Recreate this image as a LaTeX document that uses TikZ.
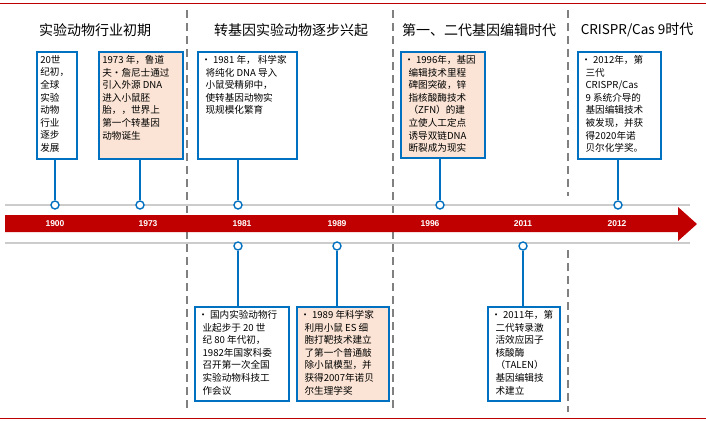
\documentclass[tikz,border=0pt]{standalone}
\usepackage{fontspec}
\setmainfont{Liberation Sans}
\newfontfamily\cjk{Noto Sans CJK SC}
\usetikzlibrary{arrows.meta}
\definecolor{bandred}{RGB}{192,0,0}
\definecolor{boxblue}{RGB}{0,112,192}
\definecolor{peach}{RGB}{251,228,213}
\newcommand\evtext[3]{\begin{minipage}[t][#2][t]{#1}\raggedright #3\end{minipage}}
\tikzset{
  evbox/.style = {draw=boxblue, line width=1.6pt, fill=white, anchor=north west,
    inner sep=3.5pt, font=\cjk\fontsize{9.6}{12.6}\selectfont},
  hot/.style = {fill=peach},
  stem/.style = {draw=boxblue, line width=1.4pt},
  dot/.style = {circle, draw=boxblue, line width=1.4pt, fill=white, inner sep=0pt, minimum size=8pt},
  year/.style = {text=white, font=\bfseries\fontsize{8.5}{9}\selectfont},
  era/.style = {font=\cjk\fontsize{14}{16}\selectfont},
  sep/.style = {draw=gray, line width=2pt, dash pattern=on 8pt off 5pt}
}
\begin{document}
\begin{tikzpicture}[x=1pt, y=-1pt]
    \useasboundingbox (0,0) rectangle (706,421);
    \draw[bandred, line width=1pt] (0,3) -- (706,3);
    \draw[bandred, line width=1pt] (0,418) -- (706,418);

    \draw[sep] (187,10) -- (187,412);
    \draw[sep] (393,10) -- (393,412);
    \draw[sep] (568,10) -- (568,196);
    \draw[sep] (568,250) -- (568,412);

    \node[era] (e1) at (95,30) {实验动物行业初期};
    \node[era] (e2) at (291,30) {转基因实验动物逐步兴起};
    \node[era] (e3) at (479,30) {第一、二代基因编辑时代};
    \node[era] (e4) at (637,30) {{\fontsize{13.5}{16}\selectfont CRISPR/Cas 9}时代};

    \draw[gray!40, line width=1.2pt] (5,205) -- (690,205);
    \draw[gray!40, line width=1.2pt] (5,243) -- (690,243);
    \fill[bandred] (5,215) -- (678,215) -- (678,207) -- (697,224) -- (678,241) -- (678,232) -- (5,232) -- cycle;

    \node[year] (y1) at (55,224) {1900};
    \node[year] (y2) at (148,224) {1973};
    \node[year] (y3) at (242,224) {1981};
    \node[year] (y4) at (337,224) {1989};
    \node[year] (y5) at (430,224) {1996};
    \node[year] (y6) at (523,224) {2011};
    \node[year] (y7) at (617,224) {2012};

    % upper events
    \node[evbox] (t1) at (36,51) {\evtext{33pt}{100pt}
      {20世\\纪初，\\全球\\实验\\动物\\行业\\逐步\\发展}};
    \node[evbox, hot] (t2) at (98,51) {\evtext{77pt}{100pt}
      {1973 年，鲁道\\夫·詹尼士通过\\引入外源 DNA\\进入小鼠胚\\胎，，世界上\\第一个转基因\\动物诞生}};
    \node[evbox] (t3) at (197,51) {\evtext{92pt}{100pt}
      {• 1981 年， 科学家\\\ \ 将纯化 DNA 导入\\\ \ 小鼠受精卵中，\\\ \ 使转基因动物实\\\ \ 现规模化繁育}};
    \node[evbox, hot] (t4) at (400,51) {\evtext{77pt}{99pt}
      {• 1996年，基因\\\ \ 编辑技术里程\\\ \ 碑图突破，锌\\\ \ 指核酸酶技术\\\ \ （ZFN）的建\\\ \ 立使人工定点\\\ \ 诱导双链DNA\\\ \ 断裂成为现实}};
    \node[evbox] (t5) at (577,51) {\evtext{76pt}{100pt}
      {• 2012年，第\\\ \ 三代\\\ \ CRISPR/Cas\\\ \ 9 系统介导的\\\ \ 基因编辑技术\\\ \ 被发现，并获\\\ \ 得2020年诺\\\ \ 贝尔化学奖。}};

    \node[dot] (d1) at (55,205) {};
    \node[dot] (d2) at (140,205) {};
    \node[dot] (d3) at (238,205) {};
    \node[dot] (d4) at (440,205) {};
    \node[dot] (d5) at (618,205) {};
    \draw[stem] (t1.south -| d1) -- (d1);
    \draw[stem] (t2.south -| d2) -- (d2);
    \draw[stem] (t3.south -| d3) -- (d3);
    \draw[stem] (t4.south -| d4) -- (d4);
    \draw[stem] (t5.south -| d5) -- (d5);

    % lower events
    \node[evbox] (b1) at (194,306) {\evtext{87pt}{87pt}
      {• 国内实验动物行\\\ \ 业起步于 20 世\\\ \ 纪 80 年代初，\\\ \ 1982年国家科委\\\ \ 召开第一次全国\\\ \ 实验动物科技工\\\ \ 作会议}};
    \node[evbox, hot] (b2) at (296,306) {\evtext{85pt}{87pt}
      {• 1989 年科学家\\\ \ 利用小鼠 ES 细\\\ \ 胞打靶技术建立\\\ \ 了第一个普通敲\\\ \ 除小鼠模型，并\\\ \ 获得2007年诺贝\\\ \ 尔生理学奖}};
    \node[evbox] (b3) at (487,306) {\evtext{65pt}{87pt}
      {• 2011年，第\\\ \ 二代转录激\\\ \ 活效应因子\\\ \ 核酸酶\\\ \ （TALEN）\\\ \ 基因编辑技\\\ \ 术建立}};

    \node[dot] (c1) at (238,246) {};
    \node[dot] (c2) at (337,246) {};
    \node[dot] (c3) at (523,246) {};
    \draw[stem] (c1) -- (b1.north -| c1);
    \draw[stem] (c2) -- (b2.north -| c2);
    \draw[stem] (c3) -- (b3.north -| c3);
\end{tikzpicture}
\end{document}
